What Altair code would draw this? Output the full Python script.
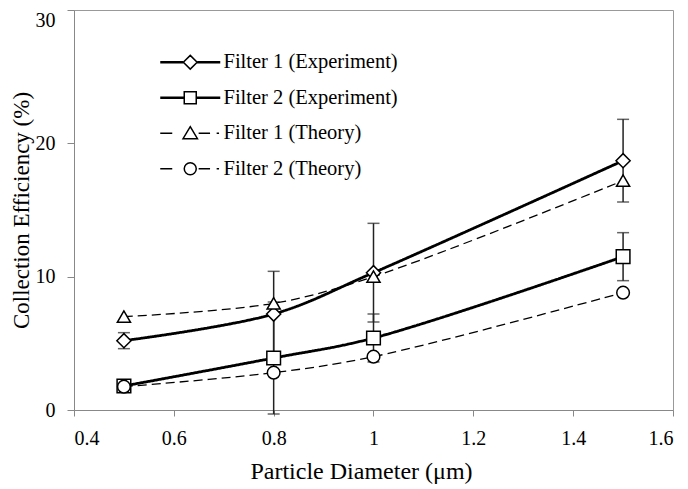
import altair as alt
import pandas as pd

# ---- data ----
diam = [0.5, 0.8, 1.0, 1.5]
f1_exp = [5.2, 7.2, 10.3, 18.7]
f2_exp = [1.8, 3.9, 5.4, 11.5]
f1_theory = [7.0, 8.0, 10.0, 17.2]
f2_theory = [1.75, 2.8, 4.0, 8.8]
f1_exp_err = [0.6, 3.2, 3.7, 3.1]
f2_exp_err = [0.3, 4.2, 1.8, 1.8]

series_names = ["Filter 1 (Experiment)", "Filter 2 (Experiment)",
                "Filter 1 (Theory)", "Filter 2 (Theory)"]
series_kind = ["Experiment", "Experiment", "Theory", "Theory"]
x_ticks = [0.4, 0.6, 0.8, 1.0, 1.2, 1.4, 1.6]
y_ticks = [0, 10, 20, 30]

values = [f1_exp, f2_exp, f1_theory, f2_theory]
rows = []
for name, kind, vals in zip(series_names, series_kind, values):
    for x, y in zip(diam, vals):
        rows.append({"series": name, "kind": kind, "x": x, "y": y})
df = pd.DataFrame(rows)

err_rows = []
cap_rows = []
for name, vals, errs in [(series_names[0], f1_exp, f1_exp_err),
                         (series_names[1], f2_exp, f2_exp_err)]:
    for x, y, e in zip(diam, vals, errs):
        err_rows.append({"series": name, "x": x, "lo": y - e, "hi": y + e})
        cap_rows.append({"series": name, "x": x, "v": y - e})
        cap_rows.append({"series": name, "x": x, "v": y + e})
err_df = pd.DataFrame(err_rows)
cap_df = pd.DataFrame(cap_rows)

FONT = "Liberation Serif"

xscale = alt.Scale(domain=[0.4, 1.6], nice=False, zero=False)
yscale = alt.Scale(domain=[0, 30], nice=False)

xax = alt.Axis(values=x_ticks, format="~g", title="Particle Diameter (μm)",
               tickSize=6, labelPadding=12, titlePadding=11, titleX=287)
yax = alt.Axis(values=y_ticks, title="Collection Efficiency (%)",
               tickSize=7, labelPadding=12, titlePadding=2, titleFontSize=23,
               labelOffset={"condition": {"test": "datum.value == 30", "value": 10},
                            "value": 0})

X = alt.X("x:Q", scale=xscale, axis=xax)

rules = alt.Chart(err_df).mark_rule(color="#222", strokeWidth=1.5).encode(
    x=X, y=alt.Y("lo:Q", scale=yscale, axis=yax), y2="hi:Q")

caps = alt.Chart(cap_df).mark_tick(orient="horizontal", size=12, thickness=1.5,
                                   color="#222").encode(
    x=X, y=alt.Y("v:Q", scale=yscale, axis=yax))

lines = alt.Chart(df).mark_line(color="black", interpolate="catmull-rom").encode(
    x=X,
    y=alt.Y("y:Q", scale=yscale, axis=yax),
    detail="series:N",
    strokeDash=alt.StrokeDash("kind:N", scale=alt.Scale(domain=["Experiment", "Theory"],
                                                         range=[[1, 0], [9, 5]]), legend=None),
    strokeWidth=alt.StrokeWidth("kind:N", scale=alt.Scale(domain=["Experiment", "Theory"],
                                                           range=[2.8, 1.3]), legend=None),
)

points = alt.Chart(df).mark_point(filled=True, fill="white", stroke="black",
                                  strokeWidth=1.5, opacity=1).encode(
    x=X,
    y=alt.Y("y:Q", scale=yscale, axis=yax),
    shape=alt.Shape("series:N", scale=alt.Scale(domain=series_names,
                    range=["diamond", "square", "triangle-up", "circle"]), legend=None),
    size=alt.Size("series:N", scale=alt.Scale(domain=series_names,
                  range=[200, 160, 190, 150]), legend=None),
)

# legend glyphs: line + marker, thick lines drawn as doubled strokes
dashes = "M-5,0H-3M1.4,0H3.3M4.4,0H4.8"
p_diamond = "M-5,-0.1H-1.2M-5,0.1H-1.2M1.2,-0.1H5M1.2,0.1H5" + "M0,-1.15L1.15,0L0,1.15L-1.15,0Z"
p_square = "M-5,-0.1H-1M-5,0.1H-1M1,-0.1H5M1,0.1H5" + "M-1,-1H1V1H-1Z"
p_tri = dashes + "M0,-1.1L1.2,0.9L-1.2,0.9Z"
p_circ = dashes + "M1,0A1,1,0,1,1,-1,0A1,1,0,1,1,1,0Z"

legend_layer = alt.Chart(df).mark_point(filled=False, opacity=0).encode(
    x=X,
    y=alt.Y("y:Q", scale=yscale, axis=yax),
    shape=alt.Shape("series:N", scale=alt.Scale(domain=series_names,
                    range=[p_diamond, p_square, p_tri, p_circ]),
                    legend=alt.Legend(orient="none", legendX=106, legendY=42, title=None,
                                      symbolSize=144, symbolStrokeWidth=1.5,
                                      symbolStrokeColor="black", symbolOpacity=1,
                                      labelFont=FONT, labelFontSize=20.5, labelColor="black",
                                      labelLimit=0, labelOffset=23, rowPadding=14.5,
                                      padding=0)),
)

chart = alt.layer(rules, caps, lines, points, legend_layer).resolve_scale(
    shape="independent", size="independent"
).properties(
    width=599, height=400,
    autosize=alt.AutoSizeParams(type="none"),
    padding={"left": 66, "top": 2, "right": 7, "bottom": 79},
).configure_view(
    stroke="#999", strokeWidth=1
).configure_axis(
    labelFont=FONT, labelFontSize=20, labelColor="black",
    titleFont=FONT, titleFontSize=24, titleFontWeight="normal", titleColor="black",
    domainColor="#888", tickColor="#888", grid=False,
)

chart.save("out.html", embed_options={"renderer": "svg", "actions": False})
